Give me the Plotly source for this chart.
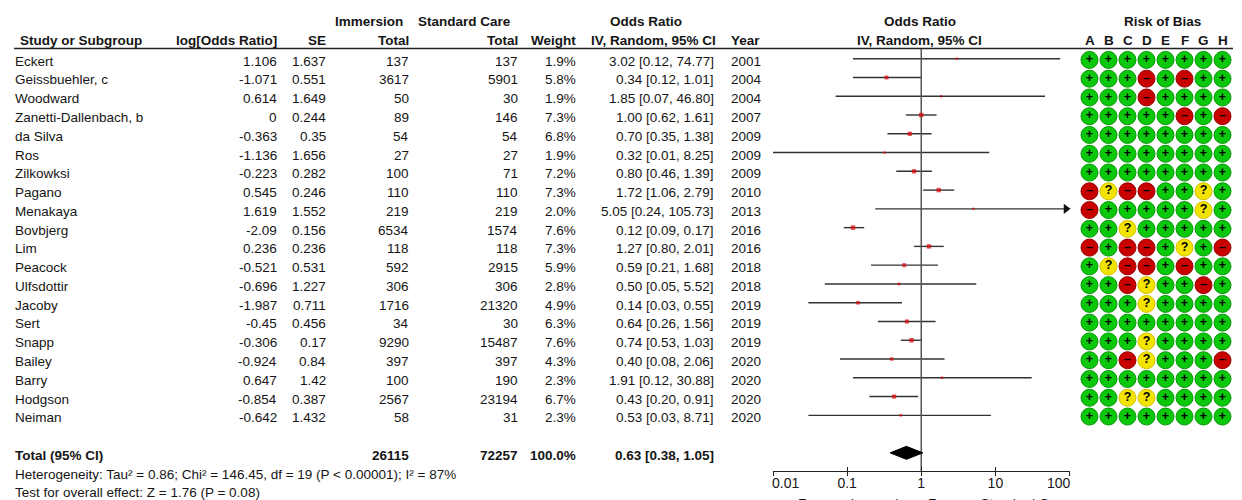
import math
import plotly.graph_objects as go

# ---------------- data ----------------
studies = ["Eckert", "Geissbuehler, c", "Woodward", "Zanetti-Dallenbach, b", "da Silva",
           "Ros", "Zilkowksi", "Pagano", "Menakaya", "Bovbjerg", "Lim", "Peacock",
           "Ulfsdottir", "Jacoby", "Sert", "Snapp", "Bailey", "Barry", "Hodgson", "Neiman"]
log_or = ["1.106", "-1.071", "0.614", "0", "-0.363", "-1.136", "-0.223", "0.545", "1.619", "-2.09",
          "0.236", "-0.521", "-0.696", "-1.987", "-0.45", "-0.306", "-0.924", "0.647", "-0.854", "-0.642"]
se = ["1.637", "0.551", "1.649", "0.244", "0.35", "1.656", "0.282", "0.246", "1.552", "0.156",
      "0.236", "0.531", "1.227", "0.711", "0.456", "0.17", "0.84", "1.42", "0.387", "1.432"]
n_immersion = [137, 3617, 50, 89, 54, 27, 100, 110, 219, 6534, 118, 592, 306, 1716, 34, 9290,
               397, 100, 2567, 58]
n_standard = [137, 5901, 30, 146, 54, 27, 71, 110, 219, 1574, 118, 2915, 306, 21320, 30, 15487,
              397, 190, 23194, 31]
weight = [1.9, 5.8, 1.9, 7.3, 6.8, 1.9, 7.2, 7.3, 2.0, 7.6, 7.3, 5.9, 2.8, 4.9, 6.3, 7.6,
          4.3, 2.3, 6.7, 2.3]
odds_ratio = [3.02, 0.34, 1.85, 1.00, 0.70, 0.32, 0.80, 1.72, 5.05, 0.12, 1.27, 0.59, 0.50,
              0.14, 0.64, 0.74, 0.40, 1.91, 0.43, 0.53]
ci_low = [0.12, 0.12, 0.07, 0.62, 0.35, 0.01, 0.46, 1.06, 0.24, 0.09, 0.80, 0.21, 0.05,
          0.03, 0.26, 0.53, 0.08, 0.12, 0.20, 0.03]
ci_high = [74.77, 1.01, 46.80, 1.61, 1.38, 8.25, 1.39, 2.79, 105.73, 0.17, 2.01, 1.68, 5.52,
           0.55, 1.56, 1.03, 2.06, 30.88, 0.91, 8.71]
years = [2001, 2004, 2004, 2007, 2009, 2009, 2009, 2010, 2013, 2016, 2016, 2018, 2018, 2019,
         2019, 2019, 2020, 2020, 2020, 2020]

# risk of bias judgements per study, domains A..H
rob_domains = ["A", "B", "C", "D", "E", "F", "G", "H"]
rob = ["++++++++", "+++-+-++", "+++-++++", "+++++-+-", "++++++++",
       "++++++++", "++++++++", "-?--++?+", "-+++++?+", "++?+++++",
       "-+--+?+-", "+?--+-++", "++-?++-+", "+++?++++", "++++++++",
       "+++?++++", "++-?+++-", "++++++++", "++??++++", "++++++++"]

total_immersion = 26115
total_standard = 72257
total_weight = 100.0
total_or, total_low, total_high = 0.63, 0.38, 1.05
heterogeneity = "Heterogeneity: Tau² = 0.86; Chi² = 146.45, df = 19 (P < 0.00001); I² = 87%"
overall_test = "Test for overall effect: Z = 1.76 (P = 0.08)"
axis_ticks = [0.01, 0.1, 1, 10, 100]
axis_labels = ["0.01", "0.1", "1", "10", "100"]

# ---------------- layout geometry ----------------
W, H = 1242, 500
ROW0, STEP = 58.7, 18.77          # pixel centre of first study row, row pitch


def row_of(px):
    return (px - ROW0) / STEP


def xp(px):
    return px / W


FONT = "Liberation Sans, Arial, sans-serif"
FS = 13.5
TXT = "#151515"
n = len(studies)
rows = list(range(n))
total_row = n + 1
text_dy = 2.5 / STEP

fig = go.Figure()

# ---------------- forest plot ----------------
AX_MAX = axis_ticks[-1]
seg_x, seg_y = [], []
for i in rows:
    seg_x += [ci_low[i], min(ci_high[i], AX_MAX), None]
    seg_y += [i, i, None]
fig.add_trace(go.Scatter(x=seg_x, y=seg_y, mode="lines", line=dict(color="#333333", width=1.4),
                         hoverinfo="skip", showlegend=False, cliponaxis=False))

# line of no effect
fig.add_trace(go.Scatter(x=[1, 1], y=[row_of(48.5), row_of(470.7)], mode="lines",
                         line=dict(color="#555555", width=1.5), hoverinfo="skip",
                         showlegend=False, cliponaxis=False))

# study estimates, square area proportional to weight
sizes = [max(2.0, 4.5 * (w / max(weight)) ** 0.5) for w in weight]
fig.add_trace(go.Scatter(x=odds_ratio, y=rows, mode="markers",
                         marker=dict(symbol="square", size=sizes, color="#e00000",
                                     line=dict(width=0)),
                         showlegend=False, cliponaxis=False))

# arrows for intervals running past the axis
arrow_rows = [i for i in rows if ci_high[i] > AX_MAX]
fig.add_trace(go.Scatter(x=[AX_MAX / 10 ** (3.5 / 74)] * len(arrow_rows), y=arrow_rows,
                         mode="markers",
                         marker=dict(symbol="triangle-right", size=9, color="#111111"),
                         showlegend=False, cliponaxis=False, hoverinfo="skip"))

# pooled estimate diamond
half_h = 6.5 / STEP
fig.add_trace(go.Scatter(x=[total_low, total_or, total_high, total_or, total_low],
                         y=[total_row, total_row - half_h, total_row, total_row + half_h, total_row],
                         mode="lines", fill="toself", fillcolor="#000000",
                         line=dict(color="#000000", width=1), showlegend=False,
                         hoverinfo="skip", cliponaxis=False))

# companion axis carrying the upward half of the tick marks
fig.add_trace(go.Scatter(x=[1], y=[total_row], xaxis="x3", mode="markers",
                         marker=dict(size=1, opacity=0), showlegend=False, hoverinfo="skip"))

# ---------------- risk of bias grid ----------------
rob_style = {
    "+": ("#0cc80c", "#069606", "+"),
    "-": ("#c80000", "#980000", "–"),
    "?": ("#f3e400", "#d2c200", "?"),
}
for key, (fill, edge, sym) in rob_style.items():
    xs, ys = [], []
    for i in rows:
        for j, mark in enumerate(rob[i]):
            if mark == key:
                xs.append(j)
                ys.append(i + 1.2 / STEP)
    fig.add_trace(go.Scatter(x=xs, y=ys, xaxis="x2", mode="markers+text",
                             marker=dict(symbol="circle", size=17, color=fill,
                                         line=dict(color=edge, width=1)),
                             text=[sym] * len(xs), textposition="middle center",
                             textfont=dict(family=FONT, size=12.5, color="#000000",
                                           weight="bold"),
                             showlegend=False, hoverinfo="skip", cliponaxis=False))

# ---------------- text columns ----------------
ann = []


def put(text, x_px, y, anchor="right", bold=False, size=FS, yanchor="middle"):
    ann.append(dict(text=text, x=xp(x_px), y=y, xref="paper", yref="y", xanchor=anchor,
                    yanchor=yanchor, showarrow=False,
                    font=dict(family=FONT, size=size, color=TXT,
                              weight="bold" if bold else "normal")))


h1, h2 = row_of(21.5), row_of(40.7)
put("Immersion", 405, h1, bold=True)
put("Standard Care", 513, h1, bold=True)
put("Odds Ratio", 646, h1, anchor="center", bold=True)
put("Odds Ratio", 920, h1, anchor="center", bold=True)
put("Risk of Bias", 1162, h1, anchor="center", bold=True)

put("Study or Subgroup", 18, h2, anchor="left", bold=True)
put("log[Odds Ratio]", 279, h2, bold=True)
put("SE", 328, h2, bold=True)
put("Total", 411, h2, bold=True)
put("Total", 520, h2, bold=True)
put("Weight", 578, h2, bold=True)
put("IV, Random, 95% CI", 653, h2, anchor="center", bold=True)
put("Year", 729, h2, anchor="left", bold=True)
put("IV, Random, 95% CI", 919, h2, anchor="center", bold=True)
for j, d in enumerate(rob_domains):
    ann.append(dict(text=d, x=j, y=h2, xref="x2", yref="y", xanchor="center",
                    yanchor="middle", showarrow=False,
                    font=dict(family=FONT, size=FS, color=TXT, weight="bold")))

for i in rows:
    y = i + text_dy
    put(studies[i], 13, y, anchor="left")
    put(log_or[i], 279, y)
    put(se[i], 328, y)
    put(str(n_immersion[i]), 411, y)
    put(str(n_standard[i]), 520, y)
    put(f"{weight[i]:.1f}%", 578, y)
    put(f"{odds_ratio[i]:.2f} [{ci_low[i]:.2f}, {ci_high[i]:.2f}]", 716, y)
    put(str(years[i]), 729, y, anchor="left")

yt = total_row + text_dy
put("Total (95% CI)", 13, yt, anchor="left", bold=True)
put(str(total_immersion), 411, yt, bold=True)
put(str(total_standard), 520, yt, bold=True)
put(f"{total_weight:.1f}%", 578, yt, bold=True)
put(f"{total_or:.2f} [{total_low:.2f}, {total_high:.2f}]", 716, yt, bold=True)
put(heterogeneity, 13, row_of(474.5), anchor="left", size=13.5)
put(overall_test, 13, row_of(492), anchor="left", size=13.5)
put("Favours Immersion", 916, row_of(493.5), size=13.5, yanchor="top")
put("Favours Standard Care", 926, row_of(493.5), anchor="left", size=13.5, yanchor="top")

# the outermost tick labels sit inside the axis span, flush with their ticks
inner_labels = [lab if 0 < k < len(axis_labels) - 1 else "" for k, lab in enumerate(axis_labels)]
for k, anchor in ((0, "left"), (len(axis_ticks) - 1, "right")):
    ann.append(dict(text=axis_labels[k], x=math.log10(axis_ticks[k]), y=row_of(482.5),
                    xref="x", yref="y", xanchor=anchor, yanchor="middle", showarrow=False,
                    xshift=-3 if anchor == "left" else 3,
                    font=dict(family=FONT, size=14, color=TXT)))

# header rule
shapes = [dict(type="line", xref="paper", yref="y", x0=xp(14), x1=xp(1233),
               y0=row_of(48.5), y1=row_of(48.5), line=dict(color="#222222", width=1.5))]

axis_pos = 1 - 470.7 / H
forest_dom = [xp(773), xp(1069.5)]
fig.update_layout(
    width=W, height=H, margin=dict(l=0, r=0, t=0, b=0, pad=0, autoexpand=False),
    paper_bgcolor="white", plot_bgcolor="white",
    annotations=ann, shapes=shapes, showlegend=False,
    xaxis=dict(domain=forest_dom, type="log", range=[-2, 2], anchor="free", position=axis_pos,
               showline=True, linecolor="#222222", linewidth=1.4, ticks="outside", ticklen=4,
               tickwidth=1.4, tickcolor="#222222", tickvals=axis_ticks, ticktext=inner_labels,
               tickfont=dict(family=FONT, size=14, color=TXT), ticklabelstandoff=-5,
               showgrid=False, zeroline=False, fixedrange=True, automargin=False),
    xaxis3=dict(domain=forest_dom, type="log", range=[-2, 2], anchor="free", position=axis_pos,
                overlaying="x", showline=False, ticks="inside", ticklen=4, tickwidth=1.4,
                tickcolor="#222222", tickvals=axis_ticks, showticklabels=False,
                showgrid=False, zeroline=False, fixedrange=True, automargin=False),
    xaxis2=dict(domain=[xp(1080), xp(1232)], range=[-0.5, 7.5], anchor="y", visible=False,
                fixedrange=True),
    yaxis=dict(domain=[0, 1], range=[row_of(H), row_of(0)], visible=False, fixedrange=True),
)

fig.write_html("out.html")
